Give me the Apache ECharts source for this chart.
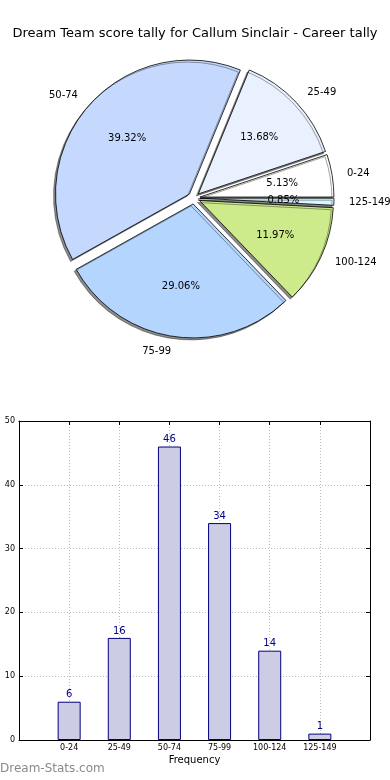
<!DOCTYPE html>
<html><head><meta charset="utf-8">
<script src="https://cdn.jsdelivr.net/npm/echarts@6/dist/echarts.min.js"></script>
<style>html,body{margin:0;padding:0;background:#fff}#c{width:390px;height:780px}</style>
</head><body><div id="c"></div>
<script>
const titleText = 'Dream Team score tally for Callum Sinclair - Career tally';
const categories = ['0-24', '25-49', '50-74', '75-99', '100-124', '125-149'];
const tally = [6, 16, 46, 34, 14, 1];
const sliceColors = ['#ffffff', '#eaf1fe', '#c5d9fe', '#b4d5fe', '#ceeb8c', '#d7f7fe'];
const yMax = 50;
const yStep = 10;
const xAxisName = 'Frequency';
const watermark = 'Dream-Stats.com';

const FONT = 'DejaVu Sans';
const pieCenter = [194, 198];
const pieR = 134;
const total = tally.reduce((a, b) => a + b, 0);

const pieData = categories.map((c, i) => ({
  name: c, value: tally[i], selected: true,
  itemStyle: { color: sliceColors[i] }
}));
const pctData = categories.map((c, i) => ({ name: c, value: tally[i], selected: true }));

const chart = echarts.init(document.getElementById('c'), null, { renderer: 'canvas' });
chart.setOption({
  animation: false,
  backgroundColor: '#fff',
  title: {
    text: titleText, left: 'center', top: 22,
    textStyle: { fontFamily: FONT, fontSize: 13, fontWeight: 'normal', color: '#000' }
  },
  graphic: [{
    type: 'text', left: 0, top: 763,
    style: { text: watermark, fill: '#8a8a8a', font: '12px "' + FONT + '"' }
  }],
  grid: { left: 19, right: 20, top: 421, bottom: 40, containLabel: false },
  xAxis: [{
    type: 'value', min: -1, max: categories.length, interval: 1, position: 'bottom',
    name: xAxisName, nameLocation: 'middle', nameGap: 15,
    nameTextStyle: { fontFamily: FONT, fontSize: 10, color: '#000' },
    axisLine: { show: true, onZero: false, lineStyle: { color: '#000', width: 1 } },
    axisTick: { show: true, inside: true, length: 4, lineStyle: { color: '#000' } },
    axisLabel: {
      fontFamily: FONT, fontSize: 8, color: '#000', margin: 4,
      formatter: v => (categories[v] !== undefined ? categories[v] : '')
    },
    splitLine: { show: true, lineStyle: { color: '#bbb', type: [1, 2], width: 1 } }
  }, {
    type: 'value', min: -1, max: categories.length, interval: 1, position: 'top',
    axisLine: { show: true, onZero: false, lineStyle: { color: '#000', width: 1 } },
    axisTick: { show: true, inside: true, length: 4, lineStyle: { color: '#000' } },
    axisLabel: { show: false }, splitLine: { show: false }
  }],
  yAxis: [{
    type: 'value', min: 0, max: yMax, interval: yStep, position: 'left',
    axisLine: { show: true, onZero: false, lineStyle: { color: '#000', width: 1 } },
    axisTick: { show: true, inside: true, length: 4, lineStyle: { color: '#000' } },
    axisLabel: { fontFamily: FONT, fontSize: 8, color: '#000', margin: 4 },
    splitLine: { show: true, lineStyle: { color: '#bbb', type: [1, 2], width: 1 } }
  }, {
    type: 'value', min: 0, max: yMax, interval: yStep, position: 'right',
    axisLine: { show: true, onZero: false, lineStyle: { color: '#000', width: 1 } },
    axisTick: { show: true, inside: true, length: 4, lineStyle: { color: '#000' } },
    axisLabel: { show: false }, splitLine: { show: false }
  }],
  series: [{
    type: 'bar', xAxisIndex: 0, yAxisIndex: 0,
    data: tally.map((v, i) => [i, v]),
    barWidth: 23,
    itemStyle: { color: '#cccce4', borderColor: '#000080', borderWidth: 1 },
    label: { show: true, position: 'top', distance: 2, color: '#000080', fontFamily: FONT, fontSize: 10,
      formatter: p => String(p.value[1]) }
  }, {
    type: 'pie', center: pieCenter, radius: pieR,
    startAngle: 0, clockwise: false,
    selectedMode: 'multiple', selectedOffset: 6,
    avoidLabelOverlap: false,
    data: pieData,
    itemStyle: { borderColor: '#000', borderWidth: 0.8,
      shadowColor: 'rgba(0,0,0,0.45)', shadowBlur: 0, shadowOffsetX: -2, shadowOffsetY: 2 },
    label: { show: true, position: 'outside', fontFamily: FONT, fontSize: 10, color: '#000',
      formatter: '{b}', distanceToLabelLine: 0 },
    labelLine: { show: false, length: 15, length2: 0 },
    emphasis: { disabled: true }
  }, {
    type: 'pie', center: pieCenter, radius: pieR * 1.2,
    startAngle: 0, clockwise: false,
    selectedMode: 'multiple', selectedOffset: 6,
    avoidLabelOverlap: false, silent: true,
    data: pctData,
    itemStyle: { color: 'rgba(0,0,0,0)', borderWidth: 0 },
    label: { show: true, position: 'inside', fontFamily: FONT, fontSize: 10, color: '#000',
      formatter: p => (p.value / total * 100).toFixed(2) + '%' },
    labelLine: { show: false },
    emphasis: { disabled: true }
  }]
});
</script></body></html>
